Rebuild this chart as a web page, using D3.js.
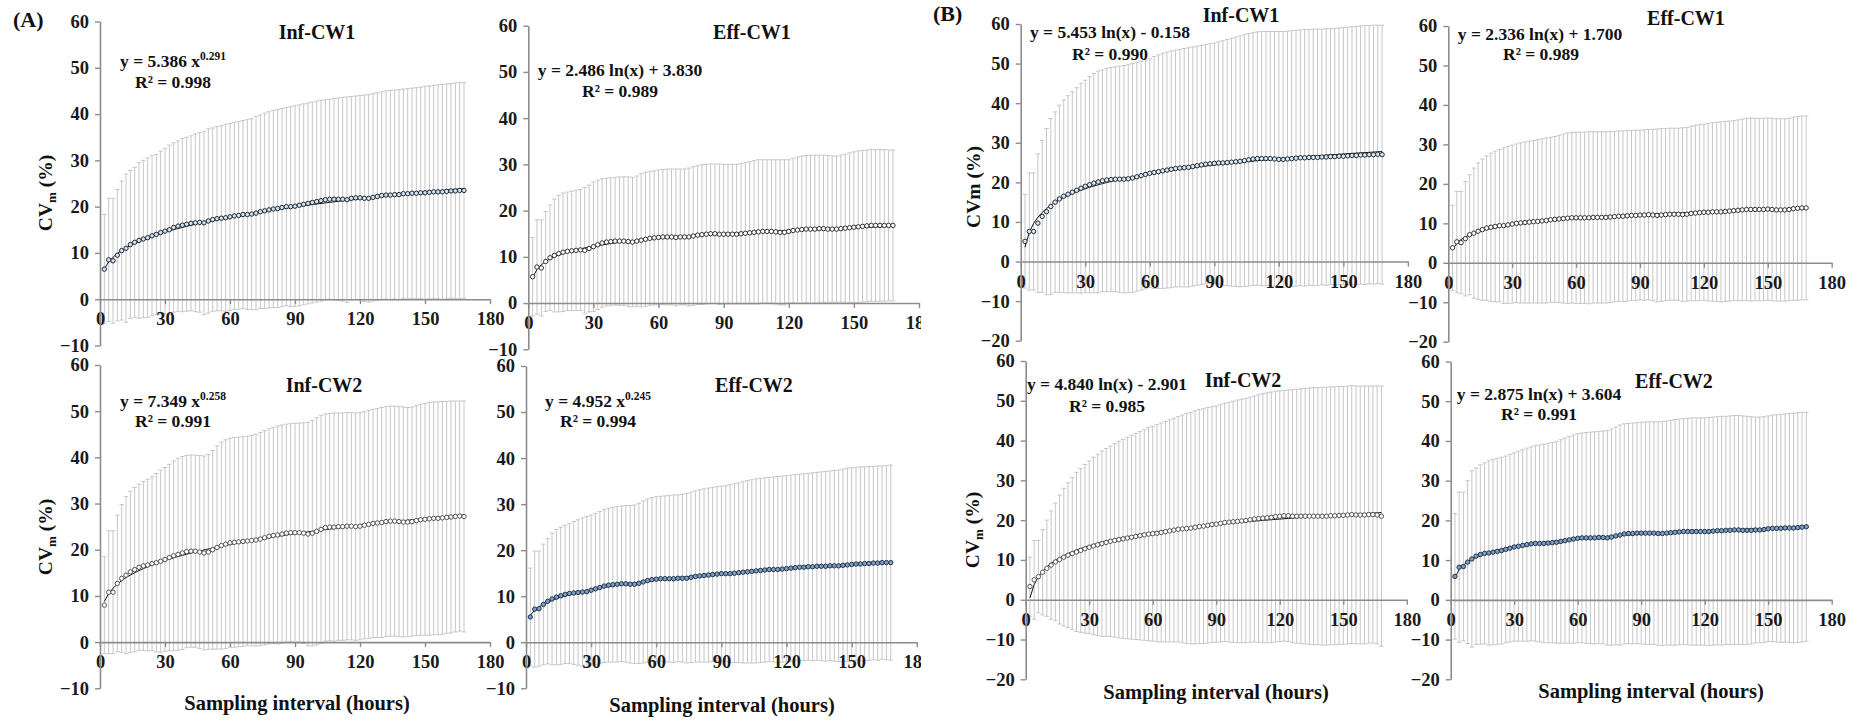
<!DOCTYPE html>
<html>
<head>
<meta charset="utf-8">
<script src="https://cdn.jsdelivr.net/npm/d3@7"></script>
<style>
  body { margin: 0; background: #fff; }
  svg { display: block; font-family: "Liberation Serif", "Times New Roman", serif; font-weight: bold; }
</style>
</head>
<body>
<svg id="drawing_region" width="1855" height="721"></svg>
<script>
// sampling interval (hours)
const hours = [
  2, 4, 6, 8, 10, 12, 14, 16, 18, 20,
  22, 24, 26, 28, 30, 32, 34, 36, 38, 40,
  42, 44, 46, 48, 50, 52, 54, 56, 58, 60,
  62, 64, 66, 68, 70, 72, 74, 76, 78, 80,
  82, 84, 86, 88, 90, 92, 94, 96, 98, 100,
  102, 104, 106, 108, 110, 112, 114, 116, 118, 120,
  122, 124, 126, 128, 130, 132, 134, 136, 138, 140,
  142, 144, 146, 148, 150, 152, 154, 156, 158, 160,
  162, 164, 166, 168
];

const xTicks = [0, 30, 60, 90, 120, 150, 180];
const yTicksA = [-10, 0, 10, 20, 30, 40, 50, 60];
const yTicksB = [-20, -10, 0, 10, 20, 30, 40, 50, 60];

// (A) Inf-CW1
const aInf1Mean = [
  6.5, 8.5, 8.3, 9.5, 10.5, 11.0, 11.8, 12.3, 12.7, 13.0,
  13.3, 13.7, 14.0, 14.4, 14.7, 15.0, 15.5, 15.8, 16.0, 16.2,
  16.4, 16.5, 16.6, 16.5, 16.9, 17.2, 17.4, 17.5, 17.6, 17.8,
  18.0, 18.1, 18.3, 18.3, 18.4, 18.6, 18.9, 19.1, 19.3, 19.5,
  19.6, 19.8, 20.0, 20.0, 20.1, 20.3, 20.5, 20.7, 20.9, 21.1,
  21.3, 21.5, 21.6, 21.6, 21.6, 21.6, 21.5, 21.8, 21.9, 21.9,
  21.8, 21.8, 22.0, 22.2, 22.4, 22.5, 22.5, 22.6, 22.6, 22.8,
  22.8, 22.9, 22.9, 23.0, 23.0, 23.1, 23.2, 23.2, 23.2, 23.3,
  23.4, 23.4, 23.5, 23.5
];
const aInf1Sd = [
  11.8, 13.3, 13.5, 14.2, 15.0, 16.0, 16.0, 16.2, 16.8, 17.0,
  17.2, 17.3, 17.3, 17.6, 17.9, 18.3, 18.3, 18.4, 18.7, 18.8,
  18.9, 19.2, 19.4, 19.8, 19.9, 19.8, 19.9, 20.0, 20.2, 20.2,
  20.2, 20.3, 20.3, 20.5, 20.6, 20.9, 20.9, 21.1, 21.2, 21.3,
  21.4, 21.4, 21.4, 21.6, 21.7, 21.7, 21.7, 21.7, 21.7, 21.7,
  21.7, 21.6, 21.6, 21.8, 21.9, 22.0, 22.2, 22.0, 22.0, 22.1,
  22.3, 22.4, 22.4, 22.4, 22.4, 22.5, 22.6, 22.6, 22.7, 22.6,
  22.7, 22.7, 22.8, 22.8, 23.0, 23.0, 23.0, 23.1, 23.2, 23.2,
  23.2, 23.3, 23.3, 23.3
];

// (A) Eff-CW1
const aEff1Mean = [
  5.7, 7.8, 7.6, 9.0, 9.8, 10.3, 10.7, 11.0, 11.2, 11.3,
  11.4, 11.5, 11.4, 11.8, 12.2, 12.6, 13.0, 13.2, 13.3, 13.4,
  13.4, 13.4, 13.3, 13.2, 13.4, 13.6, 13.8, 14.0, 14.1, 14.2,
  14.3, 14.3, 14.3, 14.2, 14.3, 14.3, 14.3, 14.5, 14.7, 14.8,
  14.9, 15.0, 15.0, 14.9, 14.9, 14.9, 14.9, 14.9, 15.0, 15.1,
  15.2, 15.3, 15.4, 15.5, 15.5, 15.5, 15.4, 15.3, 15.3, 15.5,
  15.7, 15.8, 15.9, 16.0, 16.0, 16.0, 16.1, 16.1, 16.0, 16.0,
  16.0, 16.1, 16.2, 16.3, 16.4, 16.5, 16.6, 16.7, 16.8, 16.8,
  16.8, 16.8, 16.8, 16.8
];
const aEff1Sd = [
  8.5, 10.2, 10.4, 10.8, 11.4, 12.2, 12.6, 12.8, 12.8, 12.9,
  13.0, 13.1, 13.6, 13.7, 14.0, 14.0, 13.9, 13.8, 13.8, 13.8,
  13.9, 13.9, 14.0, 14.0, 14.1, 14.4, 14.5, 14.5, 14.5, 14.6,
  14.6, 14.7, 14.7, 14.8, 14.7, 14.7, 14.9, 15.0, 15.0, 15.1,
  15.1, 15.1, 15.1, 15.2, 15.1, 15.1, 15.1, 15.1, 15.2, 15.3,
  15.4, 15.5, 15.6, 15.5, 15.5, 15.5, 15.6, 15.7, 15.7, 15.5,
  15.6, 15.8, 15.9, 15.9, 16.0, 16.0, 15.9, 15.9, 15.9, 15.8,
  15.8, 15.9, 16.0, 16.2, 16.3, 16.4, 16.4, 16.4, 16.4, 16.4,
  16.4, 16.4, 16.3, 16.3
];

// (A) Inf-CW2
const aInf2Mean = [
  8.0, 10.8, 10.8, 12.7, 13.8, 14.5, 15.2, 15.7, 16.2, 16.5,
  16.7, 17.0, 17.2, 17.5, 17.9, 18.3, 18.7, 19.0, 19.3, 19.6,
  19.7, 19.7, 19.5, 19.3, 19.5, 20.0, 20.5, 20.9, 21.2, 21.5,
  21.6, 21.7, 21.8, 21.9, 22.0, 22.1, 22.3, 22.6, 22.9, 23.1,
  23.2, 23.4, 23.6, 23.7, 23.7, 23.7, 23.6, 23.4, 23.6, 24.0,
  24.4, 24.8, 24.9, 24.9, 25.0, 25.0, 25.1, 25.1, 25.0, 25.1,
  25.3, 25.5, 25.7, 25.8, 25.9, 26.1, 26.2, 26.2, 26.1, 26.0,
  26.0, 26.1, 26.3, 26.5, 26.6, 26.7, 26.8, 26.8, 26.9, 27.0,
  27.1, 27.2, 27.3, 27.2
];
const aInf2Sd = [
  10.5, 13.3, 13.3, 14.8, 16.0, 17.0, 17.5, 17.8, 18.0, 18.3,
  18.6, 18.8, 19.3, 19.7, 19.9, 20.2, 20.5, 20.8, 20.9, 20.8,
  20.8, 20.8, 20.9, 21.0, 21.1, 21.5, 22.0, 22.4, 22.6, 22.6,
  22.7, 22.7, 22.7, 22.7, 22.8, 22.9, 23.1, 23.2, 23.3, 23.4,
  23.6, 23.6, 23.6, 23.6, 23.7, 23.7, 23.9, 24.2, 24.4, 24.6,
  24.7, 24.6, 24.6, 24.7, 24.6, 24.6, 24.6, 24.6, 24.6, 24.6,
  24.6, 24.7, 24.7, 24.8, 24.9, 24.9, 24.9, 24.9, 24.9, 24.9,
  24.8, 24.8, 24.9, 25.0, 25.1, 25.2, 25.2, 25.2, 25.2, 25.1,
  25.1, 25.0, 24.9, 25.0
];

// (A) Eff-CW2
const aEff2Mean = [
  5.5, 7.2, 7.3, 8.2, 8.9, 9.4, 9.8, 10.1, 10.4, 10.6,
  10.7, 10.8, 10.9, 11.0, 11.3, 11.6, 11.9, 12.2, 12.4, 12.5,
  12.6, 12.7, 12.7, 12.6, 12.6, 12.8, 13.1, 13.4, 13.6, 13.7,
  13.8, 13.8, 13.8, 13.8, 13.9, 13.9, 13.9, 14.1, 14.3, 14.4,
  14.5, 14.6, 14.7, 14.8, 14.9, 14.9, 14.9, 15.0, 15.1, 15.2,
  15.3, 15.4, 15.5, 15.6, 15.7, 15.8, 15.8, 15.8, 15.9, 16.0,
  16.1, 16.2, 16.3, 16.3, 16.4, 16.4, 16.5, 16.5, 16.5, 16.6,
  16.6, 16.6, 16.7, 16.8, 16.9, 17.0, 17.0, 17.1, 17.1, 17.2,
  17.2, 17.3, 17.3, 17.3
];
const aEff2Sd = [
  10.6, 12.6, 12.5, 13.1, 13.6, 14.3, 14.7, 14.9, 15.0, 15.2,
  15.5, 15.8, 16.1, 16.3, 16.3, 16.4, 16.5, 16.6, 16.7, 16.8,
  16.9, 16.9, 17.0, 17.1, 17.2, 17.4, 17.6, 17.7, 17.8, 17.9,
  17.9, 18.0, 18.1, 18.2, 18.1, 18.2, 18.4, 18.5, 18.6, 18.7,
  18.8, 18.9, 18.9, 19.0, 19.0, 19.1, 19.3, 19.4, 19.5, 19.7,
  19.8, 19.9, 20.0, 20.0, 20.0, 20.0, 20.1, 20.2, 20.2, 20.2,
  20.2, 20.2, 20.2, 20.3, 20.3, 20.4, 20.4, 20.5, 20.6, 20.6,
  20.7, 20.8, 20.9, 21.0, 21.0, 21.0, 21.1, 21.0, 21.1, 21.0,
  21.1, 21.0, 21.1, 21.2
];

// (B) Inf-CW1
const bInf1Mean = [
  5.1, 7.6, 7.6, 9.7, 11.4, 12.6, 13.9, 15.0, 15.8, 16.5,
  17.0, 17.5, 18.0, 18.5, 19.0, 19.4, 19.8, 20.1, 20.4, 20.6,
  20.7, 20.8, 20.8, 20.8, 20.9, 21.1, 21.4, 21.7, 22.0, 22.3,
  22.5, 22.7, 22.9, 23.1, 23.3, 23.5, 23.6, 23.7, 23.8, 24.0,
  24.2, 24.4, 24.6, 24.7, 24.8, 24.9, 24.9, 25.0, 25.1, 25.2,
  25.3, 25.5, 25.7, 25.9, 26.0, 26.0, 26.0, 26.0, 25.9, 25.8,
  25.8, 25.9, 26.0, 26.1, 26.2, 26.2, 26.3, 26.3, 26.3, 26.4,
  26.4, 26.5, 26.5, 26.6, 26.6, 26.7, 26.8, 26.8, 26.9, 26.9,
  27.0, 27.0, 27.1, 27.0
];
const bInf1Sd = [
  11.8, 14.8, 14.8, 17.5, 19.2, 21.0, 22.2, 22.8, 23.7, 24.3,
  24.9, 25.4, 25.9, 26.5, 26.8, 27.3, 27.7, 28.0, 28.0, 28.2,
  28.3, 28.4, 28.6, 28.7, 28.8, 28.9, 28.9, 28.9, 28.9, 28.9,
  29.3, 29.5, 29.7, 29.8, 29.9, 29.9, 30.0, 30.1, 30.2, 30.2,
  30.2, 30.2, 30.2, 30.3, 30.4, 30.6, 30.9, 31.1, 31.3, 31.5,
  31.7, 31.8, 31.9, 31.9, 32.0, 32.1, 32.1, 32.1, 32.2, 32.3,
  32.3, 32.3, 32.3, 32.3, 32.3, 32.4, 32.3, 32.4, 32.4, 32.3,
  32.4, 32.3, 32.4, 32.4, 32.5, 32.5, 32.5, 32.6, 32.6, 32.7,
  32.6, 32.7, 32.6, 32.7
];

// (B) Eff-CW1
const bEff1Mean = [
  3.8, 5.3, 5.1, 6.1, 7.1, 7.5, 8.0, 8.4, 8.8, 9.0,
  9.2, 9.4, 9.4, 9.6, 9.8, 10.0, 10.1, 10.2, 10.3, 10.4,
  10.5, 10.6, 10.7, 10.9, 11.0, 11.1, 11.2, 11.3, 11.4, 11.4,
  11.4, 11.4, 11.4, 11.5, 11.5, 11.5, 11.5, 11.6, 11.7, 11.8,
  11.8, 11.9, 12.0, 12.0, 12.1, 12.1, 12.2, 12.1, 12.0, 12.1,
  12.2, 12.3, 12.3, 12.3, 12.2, 12.3, 12.5, 12.6, 12.7, 12.8,
  12.8, 12.9, 12.9, 12.9, 13.0, 13.1, 13.2, 13.3, 13.4, 13.5,
  13.5, 13.5, 13.5, 13.5, 13.6, 13.5, 13.4, 13.4, 13.4, 13.5,
  13.7, 13.8, 13.9, 13.9
];
const bEff1Sd = [
  10.8, 12.8, 13.0, 14.5, 15.2, 16.5, 17.3, 17.9, 18.3, 18.8,
  19.1, 19.3, 19.7, 19.9, 20.0, 20.1, 20.3, 20.4, 20.5, 20.6,
  20.7, 20.8, 20.9, 20.9, 21.0, 21.2, 21.4, 21.6, 21.6, 21.7,
  21.7, 21.7, 21.8, 21.7, 21.7, 21.7, 21.7, 21.7, 21.6, 21.6,
  21.6, 21.6, 21.5, 21.6, 21.5, 21.6, 21.6, 21.7, 21.9, 21.9,
  21.8, 21.8, 21.8, 21.8, 22.0, 22.0, 22.1, 22.2, 22.3, 22.3,
  22.5, 22.6, 22.7, 22.8, 22.8, 22.8, 22.8, 22.9, 23.0, 23.1,
  23.2, 23.1, 23.1, 23.1, 23.1, 23.1, 23.1, 23.1, 23.1, 23.1,
  23.2, 23.3, 23.3, 23.3
];

// (B) Inf-CW2
const bInf2Mean = [
  3.3, 5.0, 5.8, 6.9, 7.9, 8.7, 9.5, 10.1, 10.7, 11.2,
  11.6, 12.0, 12.4, 12.8, 13.2, 13.5, 13.8, 14.1, 14.4, 14.7,
  14.9, 15.1, 15.3, 15.5, 15.7, 15.9, 16.1, 16.3, 16.5, 16.6,
  16.7, 16.9, 17.1, 17.3, 17.5, 17.7, 17.8, 17.9, 18.0, 18.2,
  18.4, 18.5, 18.7, 18.9, 19.0, 19.2, 19.4, 19.5, 19.6, 19.7,
  19.8, 19.9, 20.1, 20.3, 20.4, 20.5, 20.6, 20.7, 20.9, 21.0,
  21.1, 21.1, 21.0, 21.0, 21.0, 21.0, 21.0, 21.0, 21.0, 21.0,
  21.0, 21.1, 21.1, 21.2, 21.2, 21.3, 21.4, 21.3, 21.3, 21.3,
  21.4, 21.4, 21.3, 21.0
];
const bInf2Sd = [
  7.4, 9.9, 9.1, 10.7, 12.1, 13.6, 14.8, 16.2, 17.3, 18.2,
  19.1, 20.0, 20.6, 21.2, 21.7, 22.3, 22.8, 23.3, 23.6, 23.9,
  24.3, 24.7, 25.0, 25.3, 25.6, 25.9, 26.2, 26.5, 26.8, 27.0,
  27.3, 27.5, 27.7, 27.9, 28.1, 28.3, 28.6, 28.9, 29.1, 29.3,
  29.4, 29.5, 29.6, 29.6, 29.7, 29.8, 29.9, 30.1, 30.3, 30.5,
  30.6, 30.7, 30.8, 30.9, 31.1, 31.3, 31.4, 31.5, 31.5, 31.5,
  31.5, 31.6, 31.8, 31.9, 32.0, 32.1, 32.2, 32.3, 32.3, 32.4,
  32.4, 32.4, 32.4, 32.4, 32.4, 32.4, 32.4, 32.4, 32.4, 32.4,
  32.3, 32.3, 32.4, 32.7
];

// (B) Eff-CW2
const bEff2Mean = [
  5.9, 8.2, 8.4, 9.5, 10.3, 11.0, 11.4, 11.7, 11.8, 12.0,
  12.2, 12.4, 12.7, 13.0, 13.3, 13.5, 13.7, 13.9, 14.1, 14.2,
  14.2, 14.2, 14.3, 14.4, 14.5, 14.7, 14.9, 15.1, 15.3, 15.5,
  15.6, 15.6, 15.6, 15.6, 15.7, 15.7, 15.6, 15.8, 16.1, 16.3,
  16.6, 16.7, 16.7, 16.8, 16.8, 16.8, 16.8, 16.8, 16.7, 16.7,
  16.8, 16.9, 17.0, 17.1, 17.2, 17.2, 17.2, 17.2, 17.2, 17.2,
  17.2, 17.3, 17.4, 17.4, 17.5, 17.5, 17.6, 17.6, 17.5, 17.5,
  17.5, 17.6, 17.6, 17.7, 17.9, 18.0, 18.0, 18.0, 18.1, 18.1,
  18.1, 18.2, 18.3, 18.4
];
const bEff2Sd = [
  15.8, 18.9, 18.7, 20.5, 22.2, 22.2, 22.6, 22.8, 23.2, 23.3,
  23.4, 23.5, 23.5, 23.6, 23.7, 23.9, 24.1, 24.3, 24.4, 24.6,
  24.8, 25.0, 25.1, 25.2, 25.4, 25.6, 25.8, 26.0, 26.2, 26.3,
  26.4, 26.5, 26.6, 26.7, 26.7, 26.8, 27.0, 27.2, 27.4, 27.7,
  27.7, 27.7, 27.8, 27.8, 27.9, 28.0, 28.0, 28.0, 28.1, 28.2,
  28.2, 28.3, 28.4, 28.4, 28.4, 28.5, 28.6, 28.6, 28.6, 28.6,
  28.7, 28.7, 28.7, 28.8, 28.7, 28.8, 28.8, 28.8, 28.8, 28.7,
  28.6, 28.4, 28.4, 28.4, 28.4, 28.5, 28.6, 28.7, 28.7, 28.8,
  28.9, 28.9, 28.9, 28.8
];

// panel titles and fitted trend lines (as printed on the chart)
const titles = ["Inf-CW1", "Eff-CW1", "Inf-CW2", "Eff-CW2", "Inf-CW1", "Eff-CW1", "Inf-CW2", "Eff-CW2"];
const eqMain = ["y = 5.386 x", "y = 2.486 ln(x) + 3.830", "y = 7.349 x", "y = 4.952 x",
  "y = 5.453 ln(x) - 0.158", "y = 2.336 ln(x) + 1.700", "y = 4.840 ln(x) - 2.901", "y = 2.875 ln(x) + 3.604"];
const eqSup = ["0.291", "", "0.258", "0.245", "", "", "", ""];
const r2Labels = ["R\u00b2 = 0.998", "R\u00b2 = 0.989", "R\u00b2 = 0.991", "R\u00b2 = 0.994",
  "R\u00b2 = 0.990", "R\u00b2 = 0.989", "R\u00b2 = 0.985", "R\u00b2 = 0.991"];
const fitType = ["power", "log", "power", "power", "log", "log", "log", "log"];
const fitA = [5.386, 2.486, 7.349, 4.952, 5.453, 2.336, 4.840, 2.875];
const fitB = [0.291, 3.830, 0.258, 0.245, -0.158, 1.700, -2.901, 3.604];

const means = [aInf1Mean, aEff1Mean, aInf2Mean, aEff2Mean, bInf1Mean, bEff1Mean, bInf2Mean, bEff2Mean];
const sds = [aInf1Sd, aEff1Sd, aInf2Sd, aEff2Sd, bInf1Sd, bEff1Sd, bInf2Sd, bEff2Sd];

// layout of the eight panels
const layouts = [
  { left: 100, right: 490, top: 21.5, bottom: 345.5, yTicks: yTicksA, clip: false,
    title: [317, 39], eq: [173, 67], r2: [173, 88], ylab: [45, 193, true], xlab: null,
    stroke: "#1c2b3a", fill: "#d6e0ea" },
  { left: 528.3, right: 919, top: 25.7, bottom: 349.3, yTicks: yTicksA, clip: true,
    title: [752, 39], eq: [620, 76], r2: [620, 97], ylab: null, xlab: null,
    stroke: "#333", fill: "#fff" },
  { left: 100, right: 490, top: 365, bottom: 688.3, yTicks: yTicksA, clip: false,
    title: [324, 392], eq: [173, 407], r2: [173, 427], ylab: [45, 537, true], xlab: [297, 710],
    stroke: "#555", fill: "#fff" },
  { left: 526, right: 916.8, top: 366, bottom: 688.3, yTicks: yTicksA, clip: true,
    title: [754, 392], eq: [598, 407], r2: [598, 427], ylab: null, xlab: [722, 712],
    stroke: "#1f3550", fill: "#7f9cbc" },
  { left: 1020.7, right: 1407.9, top: 24, bottom: 340.7, yTicks: yTicksB, clip: false,
    title: [1241, 22], eq: [1110, 38], r2: [1110, 60], ylab: [973, 187, false], xlab: null,
    stroke: "#1c2b3a", fill: "#dfe7ef" },
  { left: 1448.3, right: 1831.7, top: 26, bottom: 341.7, yTicks: yTicksB, clip: false,
    title: [1686, 25], eq: [1540, 40], r2: [1541, 60], ylab: null, xlab: null,
    stroke: "#333", fill: "#fff" },
  { left: 1025.7, right: 1406.8, top: 361, bottom: 679.3, yTicks: yTicksB, clip: false,
    title: [1243, 387], eq: [1107, 390], r2: [1107, 412], ylab: [972, 530, true], xlab: [1216, 699],
    stroke: "#555", fill: "#fff" },
  { left: 1450.7, right: 1831.7, top: 361.5, bottom: 679.3, yTicks: yTicksB, clip: false,
    title: [1674, 388], eq: [1539, 400], r2: [1539, 420], ylab: null, xlab: [1651, 698],
    stroke: "#1f3550", fill: "#7f9cbc" }
];

const svg = d3.select("#drawing_region");

svg.append("defs").append("clipPath")
  .attr("id", "clipA")
  .append("rect")
  .attr("x", 0).attr("y", 0)
  .attr("width", 921).attr("height", 721);

svg.append("text")
  .attr("x", 13).attr("y", 27)
  .attr("font-size", 22)
  .attr("fill", "#111")
  .text("(A)");

svg.append("text")
  .attr("x", 933).attr("y", 21)
  .attr("font-size", 22)
  .attr("fill", "#111")
  .text("(B)");

class PanelChart {
  constructor(config, data) {
    this.config = config;
    this.data = data;
    this.init();
  }

  init() {
    const self = this;
    const c = self.config;

    self.chart = svg.append("g")
      .attr("clip-path", c.clip ? "url(#clipA)" : null);

    self.xscale = d3.scaleLinear()
      .domain([0, 180])
      .range([c.left, c.right]);

    self.yscale = d3.scaleLinear()
      .domain([c.yTicks[0], 60])
      .range([c.bottom, c.top]);

    self.xaxis = d3.axisBottom(self.xscale)
      .tickValues(xTicks)
      .tickSize(5)
      .tickSizeOuter(0)
      .tickPadding(8);

    self.yaxis = d3.axisLeft(self.yscale)
      .tickValues(c.yTicks)
      .tickSize(5)
      .tickSizeOuter(0)
      .tickPadding(6);

    self.trend = d3.line()
      .x(d => self.xscale(d.x))
      .y(d => self.yscale(d.fit));
  }

  render() {
    const self = this;
    const c = self.config;
    const xs = self.xscale, ys = self.yscale;

    // error bars (mean +/- SD)
    const bars = self.chart.append("g")
      .attr("stroke", "#c6c6c6")
      .attr("stroke-width", 1);

    bars.selectAll(".bar")
      .data(self.data)
      .enter()
      .append("line")
      .attr("x1", d => xs(d.x)).attr("x2", d => xs(d.x))
      .attr("y1", d => ys(d.mean + d.sd))
      .attr("y2", d => ys(d.mean - d.sd));

    bars.selectAll(".capTop")
      .data(self.data)
      .enter()
      .append("line")
      .attr("x1", d => xs(d.x) - 2.2).attr("x2", d => xs(d.x) + 2.2)
      .attr("y1", d => ys(d.mean + d.sd)).attr("y2", d => ys(d.mean + d.sd));

    bars.selectAll(".capBottom")
      .data(self.data)
      .enter()
      .append("line")
      .attr("x1", d => xs(d.x) - 2.2).attr("x2", d => xs(d.x) + 2.2)
      .attr("y1", d => ys(d.mean - d.sd)).attr("y2", d => ys(d.mean - d.sd));

    // axes
    const xg = self.chart.append("g")
      .attr("transform", `translate(0, ${ys(0)})`)
      .call(self.xaxis);
    const yg = self.chart.append("g")
      .attr("transform", `translate(${xs(0)}, 0)`)
      .call(self.yaxis);

    [xg, yg].forEach(g => {
      g.select(".domain").attr("stroke", "#8c8c8c").attr("stroke-width", 1.6);
      g.selectAll(".tick line").attr("stroke", "#8c8c8c").attr("stroke-width", 1.4);
      g.selectAll(".tick text")
        .attr("font-family", "Liberation Serif, serif")
        .attr("font-weight", "bold")
        .attr("font-size", 18.5)
        .attr("fill", "#1a1a1a");
    });

    // trend line
    self.chart.append("path")
      .datum(self.data)
      .attr("d", self.trend)
      .attr("fill", "none")
      .attr("stroke", "#111")
      .attr("stroke-width", 1);

    // mean points
    self.chart.selectAll(".pt")
      .data(self.data)
      .enter()
      .append("circle")
      .attr("cx", d => xs(d.x))
      .attr("cy", d => ys(d.mean))
      .attr("r", 2.2)
      .attr("fill", c.fill)
      .attr("stroke", c.stroke)
      .attr("stroke-width", 1);

    // texts
    self.chart.append("text")
      .attr("x", c.title[0]).attr("y", c.title[1])
      .attr("text-anchor", "middle")
      .attr("font-size", 20)
      .attr("fill", "#111")
      .text(c.titleText);

    const eq = self.chart.append("text")
      .attr("x", c.eq[0]).attr("y", c.eq[1])
      .attr("text-anchor", "middle")
      .attr("font-size", 17.5)
      .attr("fill", "#111")
      .text(c.eqText);
    if (c.eqSupText) {
      eq.append("tspan")
        .attr("font-size", 11.5)
        .attr("dy", -7)
        .text(c.eqSupText);
    }

    self.chart.append("text")
      .attr("x", c.r2[0]).attr("y", c.r2[1])
      .attr("text-anchor", "middle")
      .attr("font-size", 17.5)
      .attr("fill", "#111")
      .text(c.r2Text);

    if (c.ylab) {
      const yl = self.chart.append("text")
        .attr("transform", `translate(${c.ylab[0]}, ${c.ylab[1]}) rotate(-90)`)
        .attr("text-anchor", "middle")
        .attr("dy", "0.35em")
        .attr("font-size", 19.5)
        .attr("fill", "#111");
      if (c.ylab[2]) {
        yl.append("tspan").text("CV");
        yl.append("tspan").attr("font-size", 13).attr("dy", 4).text("m");
        yl.append("tspan").attr("dy", -4).text(" (%)");
      } else {
        yl.text("CVm (%)");
      }
    }

    if (c.xlab) {
      self.chart.append("text")
        .attr("x", c.xlab[0]).attr("y", c.xlab[1])
        .attr("text-anchor", "middle")
        .attr("font-size", 20.5)
        .attr("fill", "#111")
        .text("Sampling interval (hours)");
    }
  }
}

layouts.forEach((layout, i) => {
  const data = hours.map((h, j) => {
    const fit = fitType[i] === "power"
      ? fitA[i] * Math.pow(h, fitB[i])
      : fitA[i] * Math.log(h) + fitB[i];
    return { x: h, mean: means[i][j], sd: sds[i][j], fit: fit };
  });
  const config = Object.assign({}, layout, {
    titleText: titles[i],
    eqText: eqMain[i],
    eqSupText: eqSup[i],
    r2Text: r2Labels[i]
  });
  const panel = new PanelChart(config, data);
  panel.render();
});
</script>
</body>
</html>
